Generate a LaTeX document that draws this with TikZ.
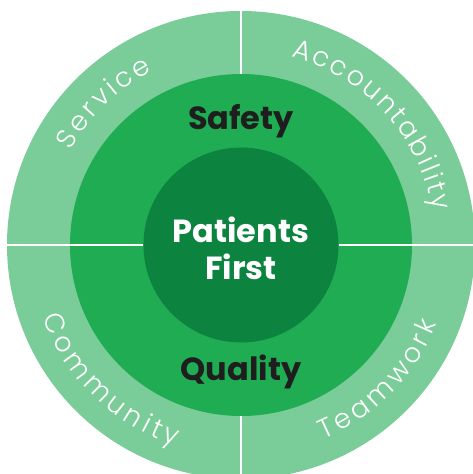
\documentclass[tikz,border=0pt]{standalone}
\usepackage{fontspec}
\setmainfont{Poppins}
\newfontfamily\ringfont{Poppins Light}
\usepackage{tikz}
\usetikzlibrary{decorations.text}
\definecolor{Ring}{RGB}{122,204,152}
\definecolor{Middle}{RGB}{31,172,83}
\definecolor{Core}{RGB}{12,132,64}
\definecolor{Ink}{RGB}{30,30,30}
\tikzset{
	disc/.style={circle, inner sep=0pt, minimum size=#1},
	divider/.style={draw=white, line width=2.5pt},
	value/.style={font=\bfseries\fontsize{32}{37}\selectfont, text=Ink},
	ringtext/.style={decorate, decoration={text along path, text={|\ringfont\fontsize{27}{27}\selectfont|#1}, text align=fit to path, text color=white}},
}

\begin{document}
\begin{tikzpicture}[x=1pt, y=1pt]
\useasboundingbox (-241,-229) rectangle (231,245);

\node[disc=468pt, fill=Ring] (ring) at (0,0) {};
\node[disc=342pt, fill=Middle] (middle) at (0,0) {};
\node[disc=195pt, fill=Core] (core) at (0,0) {};

\draw[divider] (ring.north) -- (middle.north);
\draw[divider] (middle.south) -- (ring.south);
\draw[divider] (ring.west) -- (core.west);
\draw[divider] (core.east) -- (ring.east);

\node[value, anchor=base] (safety) at (0,115) {Safety};
\node[value, anchor=base] (quality) at (0,-135) {Quality};
\node[value, text=white, align=center] (patients) at (0,-3) {Patients\\First};

\path[ringtext=Service] (151:195) arc[start angle=151, end angle=117, radius=195];
\path[ringtext=Accountability] (75:195) arc[start angle=75, end angle=10, radius=195];
\path[ringtext=Community] (200:211) arc[start angle=200, end angle=252, radius=211];
\path[ringtext=Teamwork] (293:211) arc[start angle=293, end angle=338, radius=211];
\end{tikzpicture}
\end{document}
